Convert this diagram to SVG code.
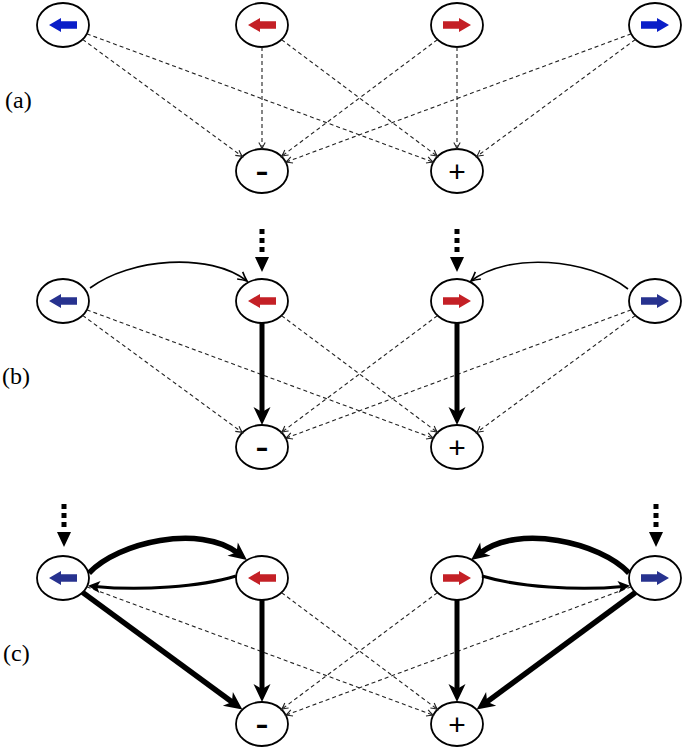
<svg xmlns="http://www.w3.org/2000/svg" xmlns:xlink="http://www.w3.org/1999/xlink" width="685" height="751" viewBox="0 0 685 751">
<style>
.node ellipse{fill:#fff;stroke:#000;stroke-width:1.8}
.lbl{font-family:"Liberation Serif","Times New Roman",serif;font-size:24px;fill:#000}
.plus{font-family:"Liberation Sans",Arial,sans-serif;font-size:30px;fill:#000;text-anchor:middle}
.minus{font-family:"Liberation Sans",Arial,sans-serif;font-size:28px;font-weight:bold;fill:#000;text-anchor:middle}
.dash{fill:none;stroke:#222;stroke-width:1.1;stroke-dasharray:4 3;marker-end:url(#dm)}
.thick{fill:none;stroke:#000;stroke-width:5;marker-end:url(#big)}
.thickc{fill:none;stroke:#000;stroke-width:5.5;marker-end:url(#big)}
.midc{fill:none;stroke:#000;stroke-width:3;marker-end:url(#mid)}
.thin{fill:none;stroke:#000;stroke-width:1.6;marker-end:url(#thinm)}
.inp{fill:none;stroke:#000;stroke-width:5;stroke-dasharray:5 4;marker-end:url(#tri)}
.ba{fill:#0a1ec8}.bb{fill:#27328f}.r{fill:#c42026}
</style>
<defs>
<path id="la" d="M-14,0 L-2,-7 L-2,-3.8 L14,-3.8 L14,3.8 L-2,3.8 L-2,7 Z"/>
<path id="ra" d="M14,0 L2,-7 L2,-3.8 L-14,-3.8 L-14,3.8 L2,3.8 L2,7 Z"/>
<marker id="dm" viewBox="-8 -5 10 10" refX="0" refY="0" markerWidth="10" markerHeight="10" markerUnits="userSpaceOnUse" orient="auto">
<path d="M-6.5,-3.2 Q-3,-1 0,0 Q-3,1 -6.5,3.2" fill="none" stroke="#222" stroke-width="1.1"/>
</marker>
<marker id="thinm" viewBox="-12 -7 14 14" refX="0" refY="0" markerWidth="14" markerHeight="14" markerUnits="userSpaceOnUse" orient="auto">
<path d="M-9,-4.5 Q-4,-1.5 0,0 Q-4,1.5 -9,4.5" fill="none" stroke="#000" stroke-width="1.6"/>
</marker>
<marker id="big" viewBox="-20 -10 22 20" refX="-12" refY="0" markerWidth="22" markerHeight="20" markerUnits="userSpaceOnUse" orient="auto">
<path d="M0,0 L-18,-8.5 L-13,0 L-18,8.5 Z" fill="#000"/>
</marker>
<marker id="mid" viewBox="-14 -7 16 14" refX="-7" refY="0" markerWidth="16" markerHeight="14" markerUnits="userSpaceOnUse" orient="auto">
<path d="M0,0 L-12,-6 L-9,0 L-12,6 Z" fill="#000"/>
</marker>
<marker id="tri" viewBox="-22 -8 24 16" refX="-20" refY="0" markerWidth="24" markerHeight="16" markerUnits="userSpaceOnUse" orient="auto">
<path d="M0,0 L-15,-7 L-15,7 Z" fill="#000"/>
</marker>
</defs>
<rect width="685" height="751" fill="#fff"/>
<text class="lbl" x="5" y="108">(a)</text>
<text class="lbl" x="2" y="384">(b)</text>
<text class="lbl" x="3" y="661">(c)</text>

<g id="a-bl" class="node"><ellipse cx="63" cy="25" rx="26" ry="22"/><use xlink:href="#la" href="#la" x="63" y="25" class="ba"/></g>
<g id="a-rl" class="node"><ellipse cx="262" cy="25" rx="26" ry="22"/><use xlink:href="#la" href="#la" x="262" y="25" class="r"/></g>
<g id="a-rr" class="node"><ellipse cx="457" cy="25" rx="26" ry="22"/><use xlink:href="#ra" href="#ra" x="457" y="25" class="r"/></g>
<g id="a-br" class="node"><ellipse cx="655" cy="25" rx="26" ry="22"/><use xlink:href="#ra" href="#ra" x="655" y="25" class="ba"/></g>
<g id="a-minus" class="node"><ellipse cx="262" cy="171" rx="26" ry="22"/><text class="minus" x="262" y="180.5" textLength="13" lengthAdjust="spacingAndGlyphs">-</text></g>
<g id="a-plus" class="node"><ellipse cx="457" cy="171" rx="26" ry="22"/><text class="plus" x="457" y="181.5">+</text></g>

<g id="b-bl" class="node"><ellipse cx="63" cy="301" rx="26" ry="22"/><use xlink:href="#la" href="#la" x="63" y="301" class="bb"/></g>
<g id="b-rl" class="node"><ellipse cx="262" cy="301" rx="26" ry="22"/><use xlink:href="#la" href="#la" x="262" y="301" class="r"/></g>
<g id="b-rr" class="node"><ellipse cx="457" cy="301" rx="26" ry="22"/><use xlink:href="#ra" href="#ra" x="457" y="301" class="r"/></g>
<g id="b-br" class="node"><ellipse cx="655" cy="301" rx="26" ry="22"/><use xlink:href="#ra" href="#ra" x="655" y="301" class="bb"/></g>
<g id="b-minus" class="node"><ellipse cx="262" cy="447" rx="26" ry="22"/><text class="minus" x="262" y="456.5" textLength="13" lengthAdjust="spacingAndGlyphs">-</text></g>
<g id="b-plus" class="node"><ellipse cx="457" cy="447" rx="26" ry="22"/><text class="plus" x="457" y="457.5">+</text></g>

<g id="c-bl" class="node"><ellipse cx="63" cy="578" rx="26" ry="22"/><use xlink:href="#la" href="#la" x="63" y="578" class="bb"/></g>
<g id="c-rl" class="node"><ellipse cx="262" cy="578" rx="26" ry="22"/><use xlink:href="#la" href="#la" x="262" y="578" class="r"/></g>
<g id="c-rr" class="node"><ellipse cx="457" cy="578" rx="26" ry="22"/><use xlink:href="#ra" href="#ra" x="457" y="578" class="r"/></g>
<g id="c-br" class="node"><ellipse cx="655" cy="578" rx="26" ry="22"/><use xlink:href="#ra" href="#ra" x="655" y="578" class="bb"/></g>
<g id="c-minus" class="node"><ellipse cx="262" cy="724" rx="26" ry="22"/><text class="minus" x="262" y="733.5" textLength="13" lengthAdjust="spacingAndGlyphs">-</text></g>
<g id="c-plus" class="node"><ellipse cx="457" cy="724" rx="26" ry="22"/><text class="plus" x="457" y="734.5">+</text></g>

<g id="connectors">
<path class="dash" d="M82.6,39.4 L242.4,156.6"/>
<path class="dash" d="M86.8,33.8 L433.2,162.2"/>
<path class="dash" d="M262,47 L262,149"/>
<path class="dash" d="M281.5,39.6 L437.5,156.4"/>
<path class="dash" d="M437.5,39.6 L281.5,156.4"/>
<path class="dash" d="M457,47 L457,149"/>
<path class="dash" d="M631.2,33.8 L285.8,162.2"/>
<path class="dash" d="M635.4,39.45 L476.6,156.55"/>

<path class="dash" d="M82.6,315.4 L242.4,432.6"/>
<path class="dash" d="M86.8,309.8 L433.2,438.2"/>
<path class="dash" d="M281.5,315.6 L437.5,432.4"/>
<path class="dash" d="M437.5,315.6 L281.5,432.4"/>
<path class="dash" d="M631.2,309.8 L285.8,438.2"/>
<path class="dash" d="M635.4,315.45 L476.6,432.55"/>
<path class="thick" d="M262,323 L262,413"/>
<path class="thick" d="M457,323 L457,413"/>
<path class="thin" d="M90,288 C130,258 210,252 247,281"/>
<path class="thin" d="M628,289 C588,258 508,252 471,281"/>
<path class="inp" d="M262,229 L262,252"/>
<path class="inp" d="M457,229 L457,252"/>

<path class="dash" d="M86.8,586.8 L433.2,715.2"/>
<path class="dash" d="M281.5,592.6 L437.5,709.4"/>
<path class="dash" d="M437.5,592.6 L281.5,709.4"/>
<path class="dash" d="M631.2,586.8 L285.8,715.2"/>
<path class="thickc" d="M82.6,592.4 L232.7,702.5"/>
<path class="thick" d="M262,600 L262,690"/>
<path class="thick" d="M457,600 L457,690"/>
<path class="thickc" d="M635.4,592.45 L486.3,702.4"/>
<path class="thickc" d="M89,573 C118,542 200,524 237.4,552.8"/>
<path class="thickc" d="M629,573 C600,542 518,524 480.6,552.8"/>
<path class="midc" d="M236,576 C200,587 140,591 95,586.5"/>
<path class="midc" d="M482,576 C518,587 578,591 623,586.5"/>
<path class="inp" d="M64,504 L64,527"/>
<path class="inp" d="M656,504 L656,527"/>
</g>
</svg>
